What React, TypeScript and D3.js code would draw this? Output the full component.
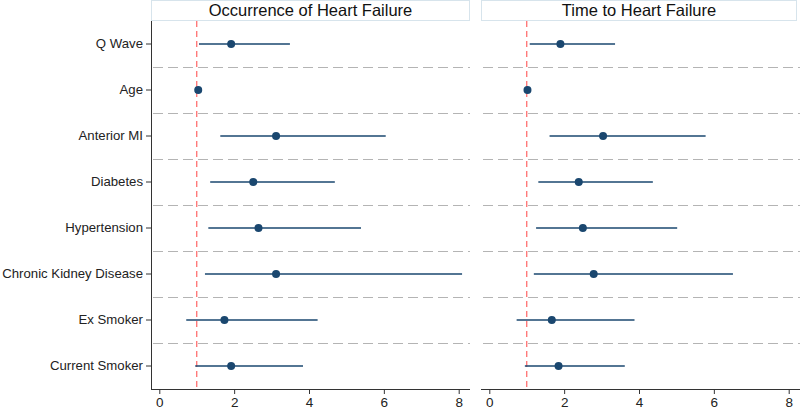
// Forest plot — odds/hazard ratios for heart failure, two panels side by side.
import { useEffect, useRef } from "react";
import * as d3 from "d3";

const CATEGORIES = [
  "Q Wave",
  "Age",
  "Anterior MI",
  "Diabetes",
  "Hypertension",
  "Chronic Kidney Disease",
  "Ex Smoker",
  "Current Smoker",
];

// Occurrence of Heart Failure
const OCC_EST = [1.92, 1.04, 3.12, 2.51, 2.65, 3.12, 1.74, 1.92];
const OCC_LO = [1.06, 1.02, 1.63, 1.36, 1.31, 1.22, 0.72, 0.96];
const OCC_HI = [3.49, 1.06, 6.05, 4.69, 5.39, 8.09, 4.23, 3.84];

// Time to Heart Failure
const TIME_EST = [1.9, 1.02, 3.04, 2.39, 2.5, 2.79, 1.67, 1.85];
const TIME_LO = [1.08, 1.0, 1.61, 1.31, 1.25, 1.19, 0.73, 0.95];
const TIME_HI = [3.36, 1.04, 5.78, 4.37, 5.02, 6.51, 3.88, 3.62];

const PANEL_TITLES = ["Occurrence of Heart Failure", "Time to Heart Failure"];
const X_TICKS = [0, 2, 4, 6, 8];

const W = 800;
const H = 409;
const NAVY = "#1a476f";
const FONT = "'Liberation Sans', Arial, sans-serif";

export default function App() {
  const ref = useRef<SVGSVGElement>(null);

  useEffect(() => {
    const svg = d3.select(ref.current);
    svg.selectAll("*").remove();

    const top = 21;
    const bottom = 389;
    const panels = [
      { x0: 151, x1: 470, est: OCC_EST, lo: OCC_LO, hi: OCC_HI, yAxis: true },
      { x0: 481, x1: 800, est: TIME_EST, lo: TIME_LO, hi: TIME_HI, yAxis: false },
    ];

    const y = d3.scaleBand<string>().domain(CATEGORIES).range([top, bottom]);
    const yc = (c: string) => (y(c) ?? 0) + y.bandwidth() / 2;

    panels.forEach((p, pi) => {
      // 0 sits 8px inside the panel, 37.4px per unit
      const x = d3.scaleLinear().domain([0, 8]).range([p.x0 + 8.3, p.x0 + 8.3 + 299.4]);
      const g = svg.append("g");

      // title box
      const boxW = pi === 1 ? 316 : p.x1 - p.x0;
      g.append("rect")
        .attr("x", p.x0 + 0.5)
        .attr("y", 0.5)
        .attr("width", boxW - 1)
        .attr("height", 20)
        .attr("fill", "#fff")
        .attr("stroke", "#d7e4ec");
      g.append("text")
        .attr("x", p.x0 + boxW / 2)
        .attr("y", 16)
        .attr("text-anchor", "middle")
        .attr("font-family", FONT)
        .attr("font-size", 16.5)
        .attr("fill", "#111")
        .text(PANEL_TITLES[pi]);

      // separators between rows
      g.append("g")
        .selectAll("line")
        .data(CATEGORIES.slice(1))
        .join("line")
        .attr("x1", p.x0 + 2)
        .attr("x2", p.x1)
        .attr("y1", (c) => Math.round(y(c) ?? 0) + 0.5)
        .attr("y2", (c) => Math.round(y(c) ?? 0) + 0.5)
        .attr("stroke", "#b4b4b4")
        .attr("stroke-width", 1)
        .attr("stroke-dasharray", "10 5");

      // reference line at 1
      g.append("line")
        .attr("x1", x(1))
        .attr("x2", x(1))
        .attr("y1", top)
        .attr("y2", bottom)
        .attr("stroke", "#ff7070")
        .attr("stroke-width", 1.3)
        .attr("stroke-dasharray", "6 4");

      // confidence intervals
      g.append("g")
        .selectAll("line")
        .data(CATEGORIES)
        .join("line")
        .attr("x1", (_, i) => x(p.lo[i]))
        .attr("x2", (_, i) => x(p.hi[i]))
        .attr("y1", yc)
        .attr("y2", yc)
        .attr("stroke", NAVY)
        .attr("stroke-width", 1.5);

      // point estimates
      g.append("g")
        .selectAll("circle")
        .data(CATEGORIES)
        .join("circle")
        .attr("cx", (_, i) => x(p.est[i]))
        .attr("cy", yc)
        .attr("r", 4)
        .attr("fill", NAVY);

      // x axis
      const gx = g
        .append("g")
        .attr("transform", `translate(0,${bottom})`)
        .call(
          d3.axisBottom(x).tickValues(X_TICKS).tickSize(5).tickPadding(3).tickSizeOuter(0)
        );
      gx.select(".domain").attr("d", `M${p.x0},0.5H${p.x1}`).attr("stroke", "#333");
      gx.selectAll(".tick line").attr("stroke", "#333");
      gx.selectAll("text")
        .attr("font-family", FONT)
        .attr("font-size", 13.5)
        .attr("fill", "#222");

      // y axis (left panel only)
      if (p.yAxis) {
        const gy = g
          .append("g")
          .attr("transform", `translate(${p.x0},0)`)
          .call(d3.axisLeft(y).tickSize(5).tickPadding(3).tickSizeOuter(0));
        gy.select(".domain").attr("d", `M0.5,${top}V${bottom}`).attr("stroke", "#333");
        gy.selectAll(".tick line").attr("stroke", "#333");
        gy.selectAll("text")
          .attr("font-family", FONT)
          .attr("font-size", 13.2)
          .attr("fill", "#222");
      }
    });
  }, []);

  return (
    <>
      <style>{`body{margin:0}`}</style>
      <svg ref={ref} width={W} height={H} style={{ display: "block", background: "#fff" }} />
    </>
  );
}
